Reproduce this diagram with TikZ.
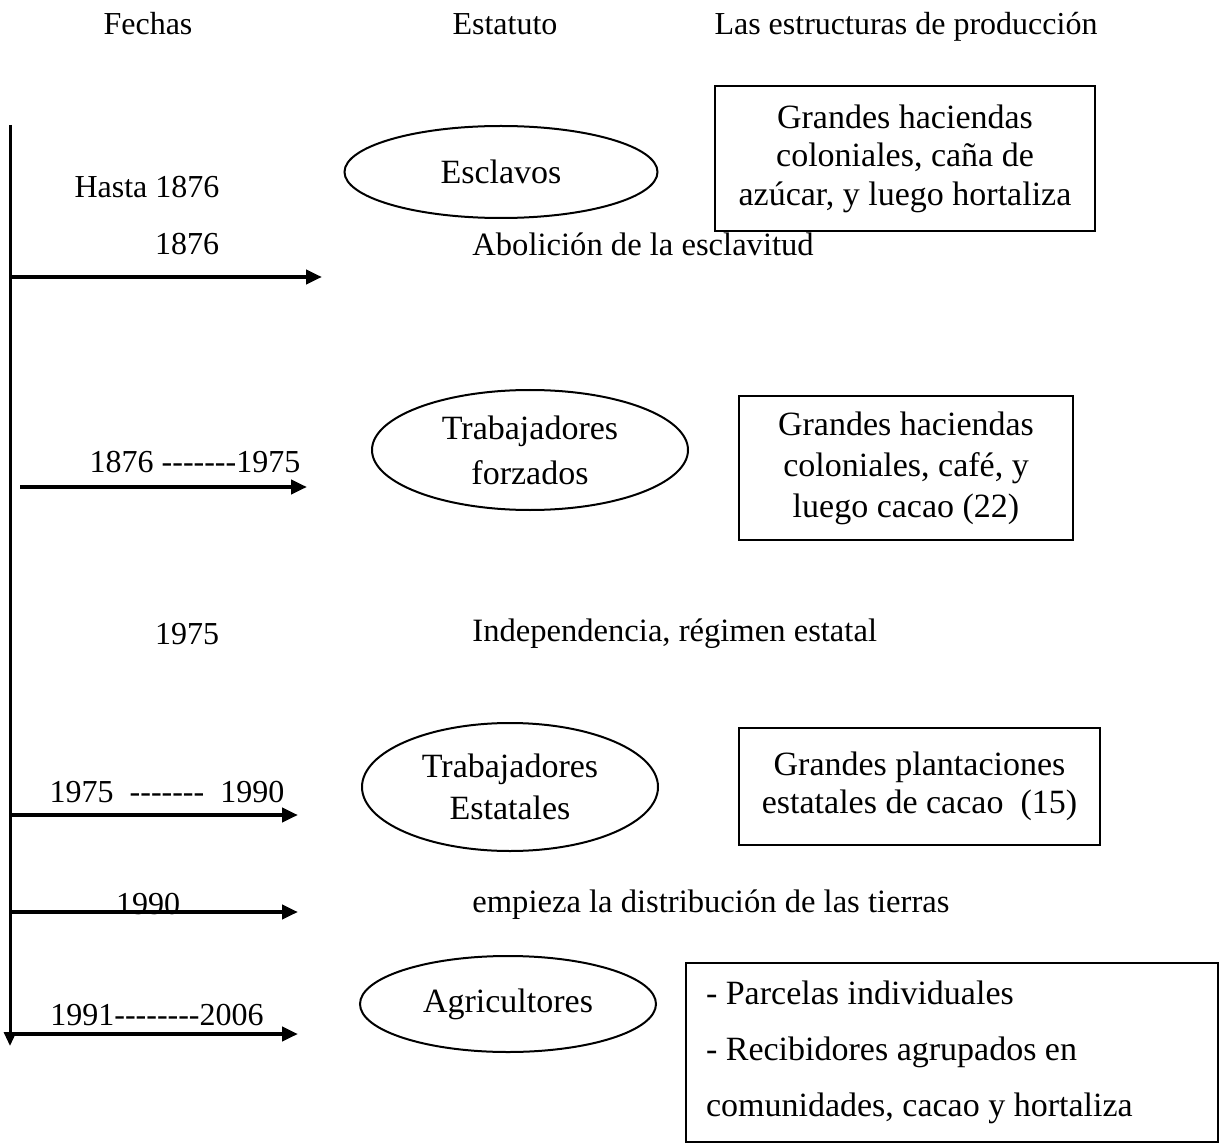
\documentclass[tikz,border=0pt]{standalone}
\usepackage{fontspec}
\setmainfont{Liberation Serif}
\usetikzlibrary{arrows.meta,shapes.geometric}
\begin{document}
\begin{tikzpicture}[x=0.5pt,y=-0.5pt,
  hdr/.style={font=\fontsize{16}{19}\selectfont, inner sep=0pt, anchor=base},
  datelab/.style={font=\fontsize{16}{19}\selectfont, inner sep=0pt},
  evlab/.style={font=\fontsize{16.3}{19}\selectfont, inner sep=0pt, anchor=west},
  stat/.style={draw, line width=1pt, ellipse, inner sep=0pt, align=center},
  prod/.style={draw, line width=1pt, rectangle, inner sep=0pt, align=center},
  tline/.style={line width=2pt, -{Triangle[length=8pt,width=7pt]}},
  axisline/.style={line width=1.5pt, -{Triangle[length=7pt,width=6pt]}}
]
\useasboundingbox (0,0) rectangle (1220,1144);

% headers
\node[hdr] (hF) at (148,35) {Fechas};
\node[hdr] (hE) at (505,35) {Estatuto};
\node[hdr] (hL) at (906,35) {Las estructuras de producción};

% time axis
\coordinate (atop) at (10,125);
\coordinate (abot) at (10,1046);
\draw[axisline] (atop) -- (abot);

% dates
\node[datelab] (d0) at (147,187) {Hasta 1876};
\node[datelab] (d1) at (187,244) {1876};
\node[datelab] (d2) at (195,462) {1876 -{}-{}-{}-{}-{}-{}-1975};
\node[datelab] (d3) at (187,634) {1975};
\node[datelab] (d4) at (167,792) {1975 \ -{}-{}-{}-{}-{}-{}- \ 1990};
\node[datelab] (d6) at (157,1015) {1991-{}-{}-{}-{}-{}-{}-{}-2006};

% events
\node[evlab] (v1) at (472,244) {Abolición de la esclavitud};
\node[evlab] (v2) at (472,634) {Independencia, régimen estatal};
\node[evlab] (v3) at (472,905) {empieza la distribución de las tierras};

% arrows
\coordinate (s1) at (10,277);  \coordinate (t1) at (322,277);
\coordinate (s2) at (20,487);  \coordinate (t2) at (307,487);
\coordinate (s3) at (10,815);  \coordinate (t3) at (298,815);
\coordinate (s4) at (10,912);  \coordinate (t4) at (298,912);
\coordinate (s5) at (10,1034); \coordinate (t5) at (298,1034);

\node[datelab] (d5) at (148,904) {1990};
\draw[tline] (s1) -- (t1);
\draw[tline] (s2) -- (t2);
\draw[tline] (s3) -- (t3);
\draw[tline] (s4) -- (t4);
\draw[tline] (s5) -- (t5);

% statuses
\node[stat, minimum width=156.5pt, minimum height=46pt, font=\fontsize{17}{20}\selectfont] (e1) at (501,172) {Esclavos};
\node[stat, minimum width=158pt, minimum height=60pt, font=\fontsize{17}{22.5}\selectfont] (e2) at (530,450) {Trabajadores\\forzados};
\node[stat, minimum width=148pt, minimum height=64pt, font=\fontsize{17}{21}\selectfont] (e3) at (510,787) {Trabajadores\\Estatales};
\node[stat, minimum width=148pt, minimum height=48pt, font=\fontsize{17}{20}\selectfont] (e4) at (508,1004) {Agricultores};

% production structures
\node[prod, minimum width=190pt, minimum height=72.5pt, font=\fontsize{17}{19.3}\selectfont] (b1) at (905,158.5)
  {Grandes haciendas\\coloniales, caña de\\azúcar, y luego hortaliza};
\node[prod, minimum width=167pt, minimum height=72pt, font=\fontsize{17}{20.5}\selectfont] (b2) at (906,468)
  {Grandes haciendas\\coloniales, café, y\\luego cacao (22)};
\node[prod, minimum width=180.5pt, minimum height=58.5pt, font=\fontsize{17}{19}\selectfont] (b3) at (919.5,786.5)
  {Grandes plantaciones\\estatales de cacao \ (15)};
\node[prod, minimum height=89.5pt, text width=246pt, inner xsep=10pt, align=flush left, font=\fontsize{17}{28}\selectfont] (b4) at (952,1052)
  {- Parcelas individuales\\- Recibidores agrupados en\\comunidades, cacao y hortaliza};
\end{tikzpicture}
\end{document}
